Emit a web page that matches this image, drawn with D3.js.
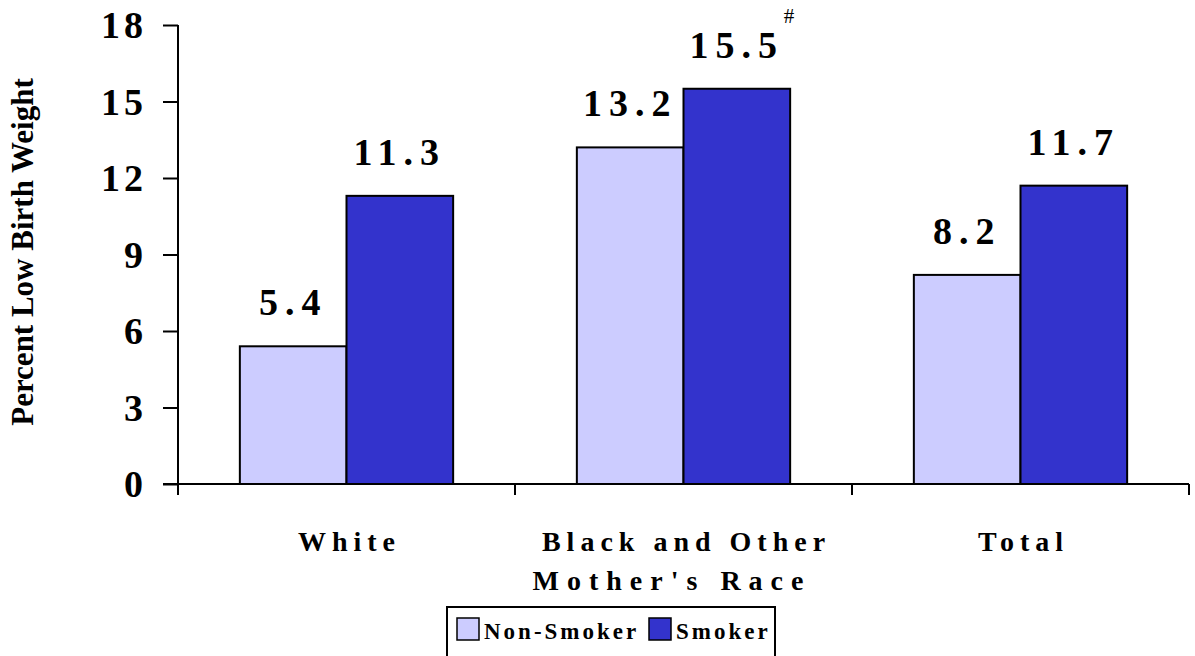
<!DOCTYPE html>
<html>
<head>
<meta charset="utf-8">
<script src="https://cdn.jsdelivr.net/npm/d3@7"></script>
<style>
  body { margin: 0; background: #fff; }
  text { font-family: "Liberation Serif", "Times New Roman", serif; font-weight: bold; fill: #000; }
</style>
</head>
<body>
<div id="chart"></div>
<script>
// data
const categories = ["White", "Black and Other", "Total"];
const series = ["Non-Smoker", "Smoker"];
const nonSmoker = [5.4, 13.2, 8.2];
const smoker = [11.3, 15.5, 11.7];
const notes = ["", "#", ""]; // superscript on the smoker label
const yTicks = [0, 3, 6, 9, 12, 15, 18];

const width = 1195;
const height = 656;

const colors = { "Non-Smoker": "#CCCCFF", "Smoker": "#3333CC" };

const svg = d3.select("#chart")
    .append("svg")
    .attr("width", width)
    .attr("height", height);

const x0 = d3.scaleBand()
    .domain(categories)
    .range([178, 1189])
    .paddingInner(0)
    .paddingOuter(0);

const x1 = d3.scaleBand()
    .domain(series)
    .range([0, x0.bandwidth()])
    .paddingInner(0)
    .paddingOuter(0.58);

const y = d3.scaleLinear()
    .domain([0, 18])
    .range([484, 25]);

const rows = categories.map((c, i) => ({
    category: c,
    values: [
        { key: "Non-Smoker", value: nonSmoker[i], note: "" },
        { key: "Smoker", value: smoker[i], note: notes[i] }
    ]
}));

// bars
const groups = svg.selectAll("g.group")
    .data(rows)
    .enter()
    .append("g")
    .attr("class", "group")
    .attr("transform", d => `translate(${x0(d.category)},0)`);

groups.selectAll("rect")
    .data(d => d.values)
    .enter()
    .append("rect")
    .attr("x", d => x1(d.key))
    .attr("y", d => y(d.value))
    .attr("width", x1.bandwidth())
    .attr("height", d => y(0) - y(d.value))
    .attr("fill", d => colors[d.key])
    .attr("stroke", "#000")
    .attr("stroke-width", 2);

// value labels
groups.selectAll("text.val")
    .data(d => d.values)
    .enter()
    .append("text")
    .attr("class", "val")
    .attr("x", d => x1(d.key) + x1.bandwidth() / 2)
    .attr("y", d => y(d.value) - 31)
    .attr("text-anchor", "middle")
    .style("font-size", "38px")
    .style("letter-spacing", "7px")
    .text(d => d.value.toFixed(1));

groups.selectAll("text.note")
    .data(d => d.values.filter(v => v.note))
    .enter()
    .append("text")
    .attr("class", "note")
    .attr("x", d => x1(d.key) + x1.bandwidth() / 2 + 47)
    .attr("y", d => y(d.value) - 66)
    .style("font-size", "21px")
    .style("font-weight", "normal")
    .text(d => d.note);

// y axis
const yAxis = svg.append("g")
    .attr("transform", "translate(178,0)")
    .call(d3.axisLeft(y).tickValues(yTicks).tickSize(15).tickPadding(16));
yAxis.select(".domain").attr("stroke", "#000").attr("stroke-width", 2).attr("d", `M0,${y(18)}V${y(0)}`);
yAxis.selectAll(".tick line").attr("stroke", "#000").attr("stroke-width", 2);
yAxis.selectAll(".tick text")
    .style("font-size", "38px")
    .style("letter-spacing", "4px")
    .attr("dy", "0.34em");

// x axis
const xAxis = svg.append("g")
    .attr("transform", `translate(0,${y(0)})`);
xAxis.append("line")
    .attr("x1", 163).attr("x2", 1189)
    .attr("stroke", "#000").attr("stroke-width", 2);
xAxis.selectAll("line.tick")
    .data(categories.concat(["end"]))
    .enter()
    .append("line")
    .attr("class", "tick")
    .attr("x1", (d, i) => i < categories.length ? x0(d) : x0.range()[1])
    .attr("x2", (d, i) => i < categories.length ? x0(d) : x0.range()[1])
    .attr("y1", 0).attr("y2", 11)
    .attr("stroke", "#000").attr("stroke-width", 2);
xAxis.selectAll("text.cat")
    .data(categories)
    .enter()
    .append("text")
    .attr("class", "cat")
    .attr("x", d => x0(d) + x0.bandwidth() / 2 + 3)
    .attr("y", 67)
    .attr("text-anchor", "middle")
    .style("font-size", "28px")
    .style("letter-spacing", "6px")
    .text(d => d);

// axis titles
svg.append("text")
    .attr("x", 672)
    .attr("y", 590)
    .attr("text-anchor", "middle")
    .style("font-size", "28px")
    .style("letter-spacing", "8px")
    .text("Mother's Race");

svg.append("text")
    .attr("transform", "translate(33,252) rotate(-90)")
    .attr("text-anchor", "middle")
    .style("font-size", "31px")
    .text("Percent Low Birth Weight");

// legend
const legend = svg.append("g").attr("transform", "translate(447,607)");
legend.append("rect")
    .attr("width", 328).attr("height", 60)
    .attr("fill", "#fff").attr("stroke", "#000").attr("stroke-width", 2);

const legendX = [10, 202];
const items = legend.selectAll("g.item")
    .data(series)
    .enter()
    .append("g")
    .attr("class", "item")
    .attr("transform", (d, i) => `translate(${legendX[i]},11)`);
items.append("rect")
    .attr("width", 22).attr("height", 22)
    .attr("fill", d => colors[d])
    .attr("stroke", "#000").attr("stroke-width", 1.5);
items.append("text")
    .attr("x", 27)
    .attr("y", 21)
    .style("font-size", "23px")
    .style("letter-spacing", "3px")
    .text(d => d);
</script>
</body>
</html>
